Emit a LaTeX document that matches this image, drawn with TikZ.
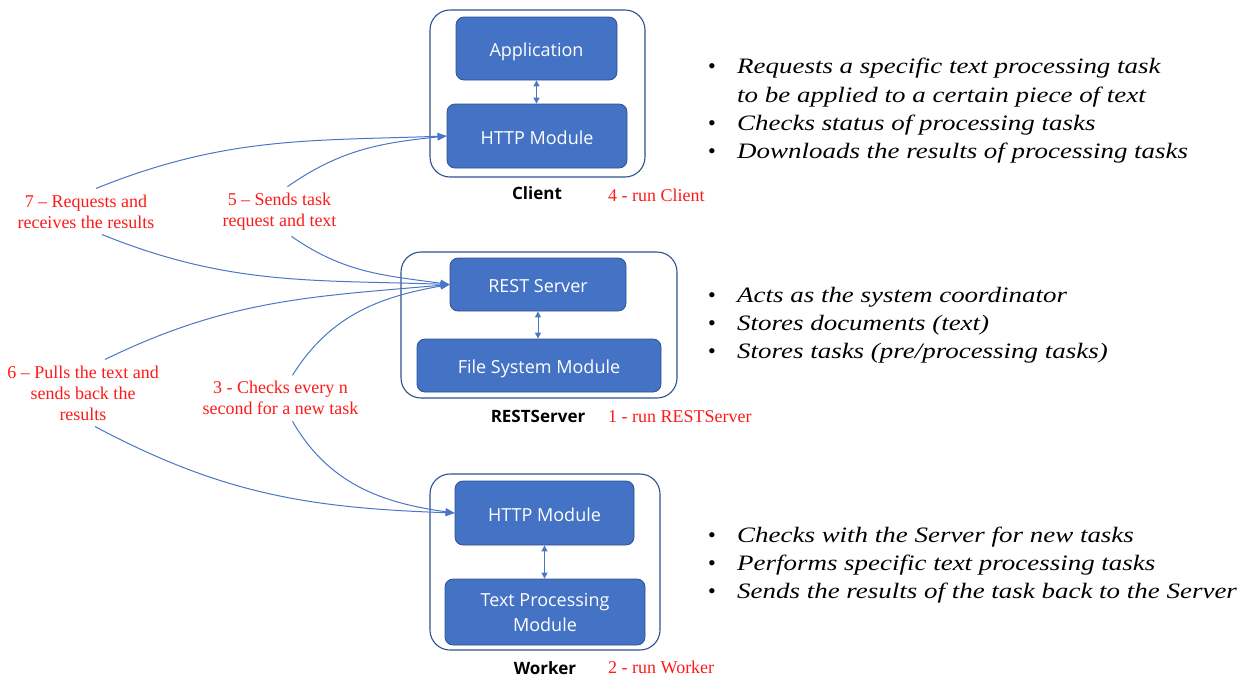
\documentclass[tikz,border=0pt]{standalone}
\usepackage{fontspec}
\setmainfont{Liberation Serif}
\newfontfamily\boxfont{Open Sans}
\newfontfamily\bulfont[FakeStretch=1.225]{Liberation Serif}
\usetikzlibrary{arrows.meta}
\definecolor{boxblue}{HTML}{4472C4}
\definecolor{boxedge}{HTML}{2F528F}
\definecolor{linkblue}{HTML}{4A76C8}
\definecolor{labred}{HTML}{FF1A1A}
\begin{document}
\begin{tikzpicture}[x=1pt,y=-1pt,
  frame/.style={draw=boxedge, line width=1.1pt, rounded corners=20pt, inner sep=0pt},
  blk/.style={draw=boxedge, fill=boxblue, line width=0.8pt, rounded corners=8pt, text=white,
    font=\boxfont\fontsize{18}{25}\selectfont, align=center, inner sep=0pt},
  oneline/.style={text height=16pt, text depth=0pt},
  lnk/.style={draw=linkblue, line width=1pt, -{Triangle[length=9pt,width=7pt]}},
  vlnk/.style={draw=linkblue, line width=1pt, {Triangle[length=6pt,width=6pt]}-{Triangle[length=6pt,width=6pt]}},
  redlab/.style={text=labred, font=\fontsize{18}{21}\selectfont, align=center, inner xsep=2pt, inner ysep=6pt},
  runlab/.style={text=labred, font=\fontsize{18}{21}\selectfont, anchor=base west, inner sep=0pt},
  ttl/.style={font=\boxfont\bfseries\fontsize{17}{20}\selectfont, anchor=base, inner sep=0pt},
  bul/.style={anchor=base west, font=\bulfont\itshape\fontsize{22}{26}\selectfont, inner sep=0pt},
  dot/.style={anchor=base, font=\fontsize{22}{26}\selectfont, inner sep=0pt}]
\useasboundingbox (0,0) rectangle (1246,681);

% outer frames
\node[frame, minimum width=215pt, minimum height=167pt] (clientF) at (537.5,93.5) {};
\node[frame, minimum width=276pt, minimum height=146pt] (restF) at (539,325) {};
\node[frame, minimum width=230pt, minimum height=176pt] (workerF) at (545,562) {};

% inner blocks
\node[blk, oneline, minimum width=161pt, minimum height=63pt] (app) at (536.5,48.5) {Application};
\node[blk, oneline, minimum width=180pt, minimum height=64pt] (httpC) at (537,136) {HTTP Module};
\node[blk, oneline, minimum width=176pt, minimum height=53pt] (restS) at (538,284.5) {REST Server};
\node[blk, oneline, minimum width=244pt, minimum height=53pt] (fsm) at (539,365.5) {File System Module};
\node[blk, oneline, minimum width=179pt, minimum height=64pt] (httpW) at (544.5,513) {HTTP Module};
\node[blk, minimum width=200pt, minimum height=66pt] (tpm) at (545,612) {Text Processing\\Module};

% vertical links
\draw[vlnk] (app.south) -- (app.south |- httpC.north);
\draw[vlnk] (restS.south) -- (restS.south |- fsm.north);
\draw[vlnk] (httpW.south) -- (httpW.south |- tpm.north);

% titles
\node[ttl] (tClient) at (537,199) {Client};
\node[ttl] (tRest) at (538,422.5) {RESTServer};
\node[ttl] (tWorker) at (545,674.5) {Worker};
\node[runlab] (rClient) at (608,201.5) {4 - run Client};
\node[runlab] (rRest) at (608,422) {1 - run RESTServer};
\node[runlab] (rWorker) at (608,673) {2 - run Worker};

% step labels
\node[redlab] (l7) at (86,211.5) {7 -- Requests and\\receives the results};
\node[redlab] (l5) at (279.5,211.5) {5 -- Sends task\\request and text};
\node[redlab] (l6) at (83,393) {6 -- Pulls the text and\\sends back the\\results};
\node[redlab] (l3) at (280.5,398.3) {3 - Checks every n\\second for a new task};

% curved links
\draw[lnk] ([xshift=10pt]l7.north) to[out=22,in=182] (httpC.west);
\draw[lnk] ([xshift=16pt]l7.south) to[out=-22,in=178] (restS.west);
\draw[lnk] ([xshift=8pt]l5.north) to[out=35,in=186] (httpC.west);
\draw[lnk] ([xshift=12pt]l5.south) to[out=-35,in=172] (restS.west);
\draw[lnk] ([xshift=22pt]l6.north) to[out=26,in=185] (restS.west);
\draw[lnk] ([xshift=12pt]l6.south) to[out=-28,in=178] (httpW.west);
\draw[lnk] ([xshift=12pt]l3.north) to[out=58,in=190] (restS.west);
\draw[lnk] ([xshift=12pt]l3.south) to[out=-60,in=172] (httpW.west);

% bullet lists
\node[dot] (d1) at (712,73) {•};
\node[bul] (b1) at (737,73) {Requests a specific text processing task};
\node[bul] (b1b) at (737,102) {to be applied to a certain piece of text};
\node[dot] (d2) at (712,130.5) {•};
\node[bul] (b2) at (737,130.5) {Checks status of processing tasks};
\node[dot] (d3) at (712,158.5) {•};
\node[bul] (b3) at (737,158.5) {Downloads the results of processing tasks};

\node[dot] (d4) at (712,302) {•};
\node[bul] (b4) at (737,302) {Acts as the system coordinator};
\node[dot] (d5) at (712,330) {•};
\node[bul] (b5) at (737,330) {Stores documents (text)};
\node[dot] (d6) at (712,358.5) {•};
\node[bul] (b6) at (737,358.5) {Stores tasks (pre/processing tasks)};

\node[dot] (d7) at (712,542) {•};
\node[bul] (b7) at (737,542) {Checks with the Server for new tasks};
\node[dot] (d8) at (712,570) {•};
\node[bul] (b8) at (737,570) {Performs specific text processing tasks};
\node[dot] (d9) at (712,598.5) {•};
\node[bul] (b9) at (737,598.5) {Sends the results of the task back to the Server};
\end{tikzpicture}
\end{document}
